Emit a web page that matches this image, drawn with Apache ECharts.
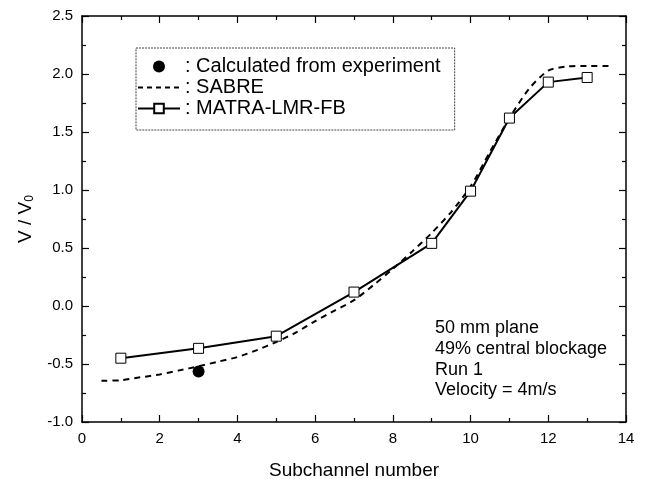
<!DOCTYPE html>
<html>
<head>
<meta charset="utf-8">
<script src="https://cdn.jsdelivr.net/npm/echarts@6/dist/echarts.min.js"></script>
<style>html,body{margin:0;padding:0;background:#fff}#c{width:646px;height:479px}</style>
</head>
<body>
<div id="c"></div>
<script>
// Data
const expX = [3];
const expY = [-0.565];
const sabreX = [0.5, 1, 1.5, 2, 2.5, 3, 3.5, 4, 4.5, 5, 5.5, 6, 6.5, 7, 7.5, 8, 8.5, 9, 9.5, 10, 10.5, 11, 11.5, 12, 12.5, 13, 13.6];
const sabreY = [-0.645, -0.64, -0.615, -0.59, -0.555, -0.52, -0.48, -0.44, -0.38, -0.31, -0.23, -0.13, -0.04, 0.05, 0.18, 0.32, 0.47, 0.63, 0.81, 1.03, 1.33, 1.62, 1.87, 2.03, 2.065, 2.07, 2.07];
const matraX = [1, 3, 5, 7, 9, 10, 11, 12, 13];
const matraY = [-0.45, -0.365, -0.26, 0.12, 0.54, 0.99, 1.62, 1.93, 1.97];
const seriesNames = ['Calculated from experiment', 'SABRE', 'MATRA-LMR-FB'];
const noteLines = ['50 mm plane', '49% central blockage', 'Run 1', 'Velocity = 4m/s'];

const zip = (xs, ys) => xs.map((x, i) => [x, ys[i]]);
const FONT = 'Liberation Sans, Arial, sans-serif';

const chart = echarts.init(document.getElementById('c'), null, {renderer: 'canvas'});
const axisCommon = {
  axisLine: {show: true, onZero: false, lineStyle: {color: '#000', width: 1.5}},
  axisTick: {show: true, inside: true, length: 7, lineStyle: {color: '#000', width: 1.2}},
  minorTick: {show: true, splitNumber: 2, length: 4, lineStyle: {color: '#000', width: 1.2}},
  splitLine: {show: false}
};
chart.setOption({
  animation: false,
  backgroundColor: '#fff',
  grid: {left: 82, top: 16, right: 20, bottom: 57, containLabel: false, outerBoundsMode: 'none'},
  xAxis: [
    Object.assign({
      type: 'value', min: 0, max: 14, interval: 2, position: 'bottom',
      name: 'Subchannel number', nameLocation: 'middle', nameGap: 39,
      nameTextStyle: {fontFamily: FONT, fontSize: 19, color: '#000'},
      axisLabel: {fontFamily: FONT, fontSize: 15, color: '#000', margin: 9}
    }, axisCommon),
    Object.assign({
      type: 'value', min: 0, max: 14, interval: 2, position: 'top',
      axisLabel: {show: false}
    }, axisCommon)
  ],
  yAxis: [
    Object.assign({
      type: 'value', min: -1, max: 2.5, interval: 0.5, position: 'left',
      name: 'V / V{sub|0}', nameLocation: 'middle', nameGap: 46, nameRotate: 90,
      nameTextStyle: {fontFamily: FONT, fontSize: 19, color: '#000',
        rich: {sub: {fontFamily: FONT, fontSize: 12, color: '#000', verticalAlign: 'bottom', padding: [8, 0, 0, 0]}}},
      axisLabel: {fontFamily: FONT, fontSize: 15, color: '#000', margin: 9, formatter: v => v.toFixed(1)}
    }, axisCommon),
    Object.assign({
      type: 'value', min: -1, max: 2.5, interval: 0.5, position: 'right',
      axisLabel: {show: false}
    }, axisCommon)
  ],
  legend: {
    orient: 'vertical', left: 136, top: 48,
    data: [
      {name: seriesNames[0]},
      {name: seriesNames[1], icon: 'line',
        itemStyle: {color: '#000', borderColor: '#000', borderWidth: 2, borderType: [5, 4]}},
      {name: seriesNames[2]}
    ],
    formatter: n => ': ' + n,
    itemWidth: 42, itemHeight: 12, itemGap: 0,
    padding: [8, 14, 11, 1],
    borderColor: '#444', borderWidth: 1, borderType: [2, 1],
    textStyle: {fontFamily: FONT, fontSize: 20, color: '#000', lineHeight: 21}
  },
  graphic: [{
    type: 'text', left: 435, top: 318,
    style: {text: noteLines.join('\n'), fontFamily: FONT, fontSize: 18, lineHeight: 20.7, fill: '#000'}
  }],
  series: [
    {
      name: seriesNames[0], type: 'scatter', data: zip(expX, expY),
      symbol: 'circle', symbolSize: 12, itemStyle: {color: '#000', opacity: 1}, z: 5
    },
    {
      name: seriesNames[1], type: 'line', data: zip(sabreX, sabreY),
      symbol: 'none', showSymbol: false, smooth: 0.25,
      lineStyle: {color: '#000', width: 2, type: [6, 5]}, itemStyle: {color: '#000'}, z: 3
    },
    {
      name: seriesNames[2], type: 'line', data: zip(matraX, matraY),
      symbol: 'rect', symbolSize: 10, showAllSymbol: true,
      itemStyle: {color: '#fff', borderColor: '#000', borderWidth: 1},
      lineStyle: {color: '#000', width: 2, type: 'solid'}, z: 4
    }
  ]
});
</script>
</body>
</html>
